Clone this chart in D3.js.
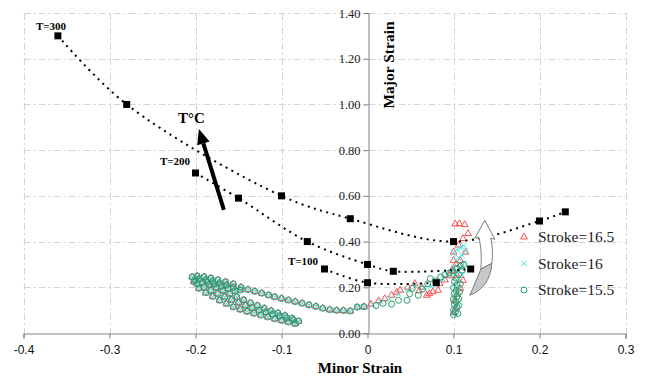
<!DOCTYPE html>
<html>
<head>
<meta charset="utf-8">
<script src="https://cdn.jsdelivr.net/npm/d3@7"></script>
<style>
  body { margin: 0; background: #fff; }
  svg { display: block; }
</style>
</head>
<body>
<svg id="chart" width="649" height="378"></svg>
<script>
// axis ticks
var xTicks = [-0.4, -0.3, -0.2, -0.1, 0, 0.1, 0.2, 0.3];
var xTickLabels = ["-0.4", "-0.3", "-0.2", "-0.1", "0", "0.1", "0.2", "0.3"];
var yTicks = [0, 0.2, 0.4, 0.6, 0.8, 1.0, 1.2, 1.4];
var yTickLabels = ["0.00", "0.20", "0.40", "0.60", "0.80", "1.00", "1.20", "1.40"];

// temperature curves
var t300Minor = [-0.36, -0.28, -0.10, -0.02, 0.10, 0.20, 0.23];
var t300Major = [1.30, 1.00, 0.60, 0.50, 0.40, 0.49, 0.53];
var t200Minor = [-0.20, -0.15, -0.07, 0.00, 0.03, 0.12];
var t200Major = [0.70, 0.59, 0.40, 0.30, 0.27, 0.28];
var t100Minor = [-0.05, 0.00, 0.08];
var t100Major = [0.28, 0.22, 0.22];

// strain path shared by all three strokes (the fan + upper branch)
var fanMinor = [
  -0.204, -0.198, -0.190, -0.182, -0.174, -0.165, -0.156, -0.147, -0.139, -0.131, -0.123, -0.115, -0.108,
  -0.100, -0.092, -0.084, -0.076, -0.068, -0.060, -0.052, -0.044, -0.036, -0.028, -0.020, -0.012, -0.004,
  -0.196, -0.188, -0.180, -0.172, -0.164, -0.156, -0.148, -0.186, -0.178, -0.170, -0.162, -0.154,
  -0.200, -0.192, -0.184, -0.176, -0.168, -0.160, -0.152, -0.144, -0.136, -0.128, -0.120, -0.112, -0.104, -0.096, -0.088, -0.080,
  -0.198, -0.190, -0.182, -0.174, -0.166, -0.158, -0.150, -0.142, -0.134, -0.126, -0.118, -0.110, -0.102, -0.094, -0.086,
  -0.202, -0.196, -0.188, -0.180, -0.172, -0.164, -0.156, -0.148, -0.140, -0.132, -0.124, -0.116, -0.108, -0.100, -0.092, -0.084
];
var fanMajor = [
  0.245, 0.249, 0.246, 0.240, 0.232, 0.224, 0.215, 0.200, 0.190, 0.182, 0.174, 0.166, 0.158,
  0.151, 0.144, 0.137, 0.130, 0.123, 0.116, 0.108, 0.102, 0.099, 0.098, 0.096, 0.113, 0.115,
  0.236, 0.232, 0.226, 0.218, 0.210, 0.200, 0.188, 0.222, 0.214, 0.204, 0.194, 0.184,
  0.232, 0.222, 0.211, 0.199, 0.186, 0.172, 0.158, 0.145, 0.132, 0.120, 0.108, 0.097, 0.087, 0.076, 0.064, 0.052,
  0.215, 0.200, 0.186, 0.172, 0.158, 0.145, 0.133, 0.121, 0.110, 0.100, 0.091, 0.082, 0.074, 0.066, 0.058,
  0.225, 0.195, 0.176, 0.160, 0.143, 0.128, 0.114, 0.103, 0.094, 0.086, 0.078, 0.070, 0.062, 0.055, 0.048, 0.041
];

// stroke specific parts (rising branch and vertical cluster)
var s165Minor = [0.004, 0.013, 0.020, 0.028, 0.034, 0.038, 0.047, 0.055, 0.063, 0.069, 0.076, 0.082, 0.084, 0.090,
  0.095, 0.098, 0.060, 0.072, 0.100, 0.100, 0.103, 0.104, 0.106, 0.108, 0.108, 0.111, 0.111, 0.114, 0.117,
  0.102, 0.107, 0.113, 0.104, 0.101, 0.103, 0.100];
var s165Major = [0.126, 0.141, 0.150, 0.165, 0.178, 0.187, 0.200, 0.216, 0.201, 0.165, 0.180, 0.187, 0.216, 0.232,
  0.250, 0.274, 0.185, 0.172, 0.317, 0.354, 0.300, 0.252, 0.384, 0.317, 0.194, 0.230, 0.413, 0.354, 0.435,
  0.477, 0.478, 0.474, 0.170, 0.140, 0.110, 0.090];
var s16Minor = [0.006, 0.015, 0.026, 0.036, 0.046, 0.056, 0.066, 0.074, 0.082, 0.088, 0.094, 0.098, 0.100, 0.103,
  0.100, 0.104, 0.108, 0.112, 0.114, 0.110, 0.106, 0.112, 0.108, 0.104, 0.110, 0.106, 0.102, 0.105, 0.101,
  0.104, 0.102, 0.101];
var s16Major = [0.124, 0.138, 0.150, 0.170, 0.190, 0.205, 0.198, 0.205, 0.218, 0.235, 0.252, 0.265, 0.290, 0.320,
  0.350, 0.365, 0.372, 0.382, 0.360, 0.340, 0.330, 0.305, 0.285, 0.268, 0.255, 0.235, 0.210, 0.185, 0.160,
  0.135, 0.110, 0.090];
var s155Minor = [0.010, 0.018, 0.028, 0.036, 0.046, 0.049, 0.059, 0.052, 0.064, 0.070, 0.073, 0.079, 0.085, 0.090,
  0.095, 0.099, 0.104, 0.108, 0.112, 0.110, 0.106, 0.103, 0.101, 0.104, 0.100, 0.103, 0.101, 0.104, 0.100,
  0.103, 0.101, 0.104, 0.100, 0.102, 0.100, 0.105, 0.106, 0.106, 0.107, 0.108];
var s155Major = [0.120, 0.130, 0.126, 0.143, 0.143, 0.172, 0.165, 0.195, 0.192, 0.215, 0.238, 0.228, 0.245, 0.255,
  0.262, 0.272, 0.282, 0.292, 0.300, 0.275, 0.255, 0.240, 0.225, 0.210, 0.198, 0.185, 0.172, 0.160, 0.148,
  0.136, 0.124, 0.112, 0.100, 0.090, 0.080, 0.085, 0.120, 0.150, 0.180, 0.215];

var legendNames = ["Stroke=16.5", "Stroke=16", "Stroke=15.5"];

const SERIF = "'Liberation Serif', 'Times New Roman', serif";
const SANS = "'Liberation Sans', Arial, sans-serif";

var svg = d3.select("#chart");
var x = d3.scaleLinear().domain([-0.4, 0.3]).range([23.5, 625.5]);
var y = d3.scaleLinear().domain([0, 1.4]).range([333, 13]);

function pts(mx, my) { return mx.map(function(v, i) { return [v, my[i]]; }); }

// grid
var grid = svg.append("g").attr("stroke", "#d4d4d4").attr("stroke-width", 1)
  .attr("stroke-dasharray", "7,3,2,3").attr("fill", "none");
grid.selectAll("line.v").data(xTicks.filter(function(d) { return d != 0; })).enter().append("line")
  .attr("x1", function(d) { return Math.round(x(d)) + 0.5; })
  .attr("x2", function(d) { return Math.round(x(d)) + 0.5; })
  .attr("y1", y(1.4)).attr("y2", y(0));
grid.selectAll("line.h").data(yTicks.filter(function(d) { return d != 0; })).enter().append("line")
  .attr("y1", function(d) { return Math.round(y(d)) + 0.5; })
  .attr("y2", function(d) { return Math.round(y(d)) + 0.5; })
  .attr("x1", x(-0.4)).attr("x2", x(0.3));

// axes
var xAxis = d3.axisBottom(x).tickValues(xTicks).tickSize(5).tickPadding(7)
  .tickFormat(function(d, i) { return xTickLabels[i]; });
var gx = svg.append("g").attr("transform", "translate(0," + (Math.round(y(0)) + 0.5) + ")").call(xAxis)
  .attr("font-family", SANS).attr("font-size", 12);
gx.select(".domain").attr("stroke", "#808080");
gx.selectAll(".tick line").attr("stroke", "#808080");
gx.selectAll(".tick text").attr("fill", "#111");

var yAxis = d3.axisLeft(y).tickValues(yTicks).tickSize(5).tickPadding(3)
  .tickFormat(function(d, i) { return yTickLabels[i]; });
var gy = svg.append("g").attr("transform", "translate(" + (Math.round(x(0)) + 0.5) + ",0)").call(yAxis)
  .attr("font-family", SERIF).attr("font-size", 12.5);
gy.select(".domain").attr("stroke", "#808080");
gy.selectAll(".tick line").attr("stroke", "#808080");
gy.selectAll(".tick text").attr("fill", "#222");

svg.append("text").attr("font-family", SERIF).attr("font-size", 15).attr("font-weight", "bold")
  .attr("text-anchor", "middle").attr("x", 360).attr("y", 373).text("Minor Strain");
svg.append("text").attr("font-family", SERIF).attr("font-size", 15.5).attr("font-weight", "bold")
  .attr("text-anchor", "middle").attr("transform", "translate(394,65) rotate(-90)").text("Major Strain");

// scatter series
var tri = d3.symbol().type(d3.symbolTriangle).size(20)();
var cross = d3.symbol().type(d3.symbolTimes).size(22)();

var redPts = pts(fanMinor, fanMajor).concat(pts(s165Minor, s165Major));
var cyanPts = pts(fanMinor, fanMajor).concat(pts(s16Minor, s16Major));
var greenPts = pts(fanMinor, fanMajor).concat(pts(s155Minor, s155Major));

svg.append("g").selectAll("path").data(redPts).enter().append("path")
  .attr("d", tri).attr("fill", "none").attr("stroke", "#ff4d4d").attr("stroke-width", 1)
  .attr("transform", function(d) { return "translate(" + x(d[0]) + "," + y(d[1]) + ")"; });
svg.append("g").selectAll("path").data(cyanPts).enter().append("path")
  .attr("d", cross).attr("fill", "none").attr("stroke", "#3ee6e6").attr("stroke-width", 1)
  .attr("transform", function(d) { return "translate(" + x(d[0]) + "," + y(d[1]) + ")"; });
svg.append("g").selectAll("circle").data(greenPts).enter().append("circle")
  .attr("cx", function(d) { return x(d[0]); }).attr("cy", function(d) { return y(d[1]); })
  .attr("r", 3).attr("fill", "none").attr("stroke", "#2e9c72").attr("stroke-width", 1);

// temperature curves
var line = d3.line().x(function(d) { return x(d[0]); }).y(function(d) { return y(d[1]); })
  .curve(d3.curveCatmullRom.alpha(0.5));
[pts(t300Minor, t300Major), pts(t200Minor, t200Major), pts(t100Minor, t100Major)].forEach(function(s) {
  svg.append("path").datum(s).attr("d", line).attr("fill", "none").attr("stroke", "#000")
    .attr("stroke-width", 2).attr("stroke-dasharray", "2,4.5");
  svg.append("g").selectAll("rect").data(s).enter().append("rect")
    .attr("x", function(d) { return x(d[0]) - 3.5; }).attr("y", function(d) { return y(d[1]) - 3.5; })
    .attr("width", 7).attr("height", 7).attr("fill", "#000");
});

// labels
function tlab(tx, ty, t) {
  svg.append("text").attr("font-family", SERIF).attr("font-size", 11).attr("font-weight", "bold")
    .attr("x", tx).attr("y", ty).text(t);
}
tlab(36, 30, "T=300");
tlab(160, 165, "T=200");
tlab(288, 265, "T=100");
svg.append("text").attr("font-family", SERIF).attr("font-size", 15).attr("font-weight", "bold")
  .attr("x", 178).attr("y", 123).text("T\u00B0C");

// black arrow
var tail = [x(-0.167), y(0.539)], tip = [x(-0.196), y(0.892)];
var dx = tip[0] - tail[0], dy = tip[1] - tail[1], len = Math.sqrt(dx * dx + dy * dy);
var ux = dx / len, uy = dy / len, hl = 15, hw = 6.5;
var bx = tip[0] - ux * hl, by = tip[1] - uy * hl;
svg.append("line").attr("x1", tail[0]).attr("y1", tail[1]).attr("x2", bx).attr("y2", by)
  .attr("stroke", "#000").attr("stroke-width", 4);
svg.append("path").attr("fill", "#000")
  .attr("d", "M" + tip[0] + "," + tip[1] + "L" + (bx - uy * hw) + "," + (by + ux * hw) +
    "L" + (bx + uy * hw) + "," + (by - ux * hw) + "Z");

// curved arrow (anchored at its tail)
var ca = svg.append("g").attr("transform", "translate(" + x(0.119) + "," + y(0.165) + ")")
  .attr("stroke", "#6e6e6e").attr("stroke-width", 0.9).attr("stroke-linejoin", "round");
ca.append("path").attr("fill", "#fff")
  .attr("d", "M11,-26 C12,-40 11,-50 9,-58 L5,-57 L15,-75 L25,-56 L21,-57 C23,-48 23,-40 22,-32 Q16,-29 11,-26 Z");
ca.append("path").attr("fill", "#c8c8c8")
  .attr("d", "M0,0 L11,-26 Q16,-29 22,-32 C21,-16 13,-5 0,0 Z");

// legend
var legColors = ["#ff4d4d", "#3ee6e6", "#2e9c72"];
legendNames.forEach(function(n, i) {
  var ly = 237 + i * 26.5;
  var g = svg.append("g").attr("transform", "translate(524," + ly + ")");
  if (i == 0) g.append("path").attr("d", tri).attr("fill", "none").attr("stroke", legColors[i]);
  if (i == 1) g.append("path").attr("d", cross).attr("fill", "none").attr("stroke", legColors[i]);
  if (i == 2) g.append("circle").attr("r", 3).attr("fill", "none").attr("stroke", legColors[i]);
  svg.append("text").attr("font-family", SERIF).attr("font-size", 15.5).attr("fill", "#222")
    .attr("x", 538).attr("y", ly + 5).text(n);
});
</script>
</body>
</html>
